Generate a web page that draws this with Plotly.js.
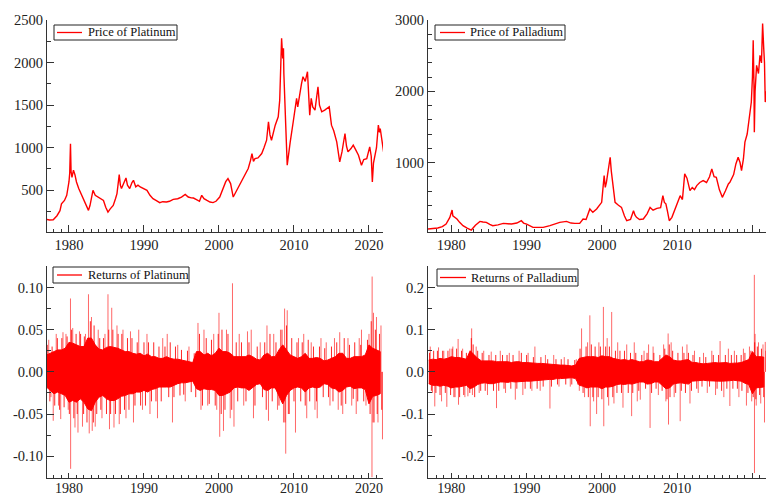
<!DOCTYPE html>
<html><head><meta charset="utf-8">
<script src="https://cdn.plot.ly/plotly-3.0.1.min.js"></script>
<style>html,body{margin:0;padding:0;background:#fff}#chart{width:766px;height:494px}</style>
</head><body><div id="chart"></div>
<script>
// ---- Price of Platinum (USD/oz) ----
const platYears = [1977.0,1977.4,1977.9,1978.4,1978.8,1979.0,1979.4,1979.7,1980.0,1980.1,1980.2,1980.28,1980.4,1980.6,1980.8,1981.0,1981.3,1981.7,1982.0,1982.3,1982.6,1982.8,1983.0,1983.2,1983.5,1983.9,1984.2,1984.6,1984.9,1985.2,1985.5,1985.9,1986.2,1986.4,1986.7,1986.85,1987.0,1987.3,1987.6,1987.8,1988.1,1988.4,1988.6,1988.9,1989.2,1989.5,1989.9,1990.4,1990.8,1991.2,1991.6,1992.1,1992.5,1993.0,1993.4,1993.9,1994.5,1995.0,1995.5,1995.9,1996.3,1996.6,1997.0,1997.4,1997.7,1998.0,1998.4,1998.8,1999.2,1999.6,2000.1,2000.6,2000.9,2001.2,2001.55,2001.9,2002.2,2002.6,2003.2,2003.5,2003.9,2004.2,2004.4,2004.6,2004.8,2005.2,2005.7,2006.0,2006.35,2006.6,2006.8,2007.0,2007.3,2007.5,2007.9,2008.1,2008.25,2008.35,2008.5,2008.6,2008.65,2008.8,2008.9,2009.1,2009.3,2009.5,2009.9,2010.1,2010.35,2010.5,2010.8,2011.0,2011.2,2011.5,2011.8,2012.0,2012.1,2012.3,2012.5,2012.8,2013.0,2013.2,2013.4,2013.7,2014.1,2014.4,2014.7,2015.0,2015.3,2015.7,2016.1,2016.4,2016.8,2017.0,2017.2,2017.6,2017.9,2018.2,2018.6,2019.0,2019.3,2019.7,2020.1,2020.3,2020.45,2020.6,2020.8,2021.0,2021.25,2021.4,2021.5,2021.7,2021.8,2021.95];
const platPrice = [157,150,153,200,260,340,380,440,600,700,1045,720,650,735,680,597,520,440,400,330,263,320,430,499,440,420,410,380,300,243,280,322,400,460,684,560,519,580,644,560,519,590,617,540,560,538,520,499,440,401,380,354,365,361,370,393,400,420,451,420,410,408,390,370,440,400,380,361,354,370,420,538,600,637,578,420,470,538,637,680,755,850,931,840,872,880,931,1000,1088,1305,1150,1088,1200,1265,1363,1560,2000,2288,2050,2170,1875,1600,1265,794,950,1069,1305,1450,1580,1480,1658,1750,1835,1780,1894,1600,1383,1580,1480,1442,1620,1717,1500,1422,1442,1460,1481,1265,1200,1069,833,950,1167,1020,951,990,1030,980,912,794,860,872,1010,900,597,820,912,1000,1265,1180,1226,1080,990,950];

// ---- Price of Palladium (USD/oz) ----
const pallYears = [1976.9,1977.5,1978.2,1978.8,1979.3,1979.8,1980.1,1980.2,1980.45,1980.75,1981.1,1981.55,1982.1,1982.65,1983.2,1983.8,1984.2,1984.65,1985.1,1985.5,1986.2,1986.9,1987.5,1988.0,1988.7,1989.3,1989.6,1990.0,1990.85,1991.5,1992.2,1993.1,1993.7,1994.4,1995.3,1995.9,1996.4,1997.05,1997.5,1997.9,1998.4,1998.8,1999.3,1999.97,2000.3,2000.45,2000.6,2000.9,2001.1,2001.25,2001.4,2001.75,2002.2,2002.6,2003.0,2003.3,2003.8,2004.2,2004.4,2004.6,2005.0,2005.5,2006.0,2006.4,2006.8,2007.3,2007.8,2008.1,2008.3,2008.5,2008.7,2008.95,2009.3,2009.7,2010.0,2010.4,2010.7,2011.0,2011.3,2011.7,2012.0,2012.3,2012.6,2013.0,2013.45,2013.9,2014.3,2014.6,2014.9,2015.2,2015.6,2016.0,2016.4,2016.8,2017.0,2017.5,2017.8,2018.1,2018.35,2018.55,2018.8,2019.0,2019.3,2019.6,2019.85,2020.0,2020.1,2020.2,2020.25,2020.35,2020.55,2020.8,2021.0,2021.2,2021.35,2021.5,2021.6,2021.7,2021.8];
const pallPrice = [66,70,80,100,136,230,333,250,230,207,160,113,80,52,120,173,165,159,130,113,125,145,140,136,150,183,150,136,89,90,89,113,130,159,173,150,145,145,207,200,348,300,348,441,817,650,722,900,1074,880,722,441,400,370,250,183,200,324,260,230,200,207,280,370,330,357,365,535,440,420,320,183,230,348,420,535,480,840,780,605,650,620,676,720,746,720,800,911,800,793,620,511,600,700,722,830,980,1074,1000,887,1050,1286,1400,1615,1850,2200,2717,2100,1426,2000,2365,2250,2506,2400,2952,2600,2400,1849,2000];

// ---- Returns: half-yearly band of the dense core (1977.0 ... 2021.5) ----
const bandStart = 1977.0, bandStep = 0.5;
const platRetHi = [.020,.022,.024,.026,.026,.028,.035,.034,.032,.030,
 .030,.040,.040,.032,.027,.026,.029,.030,.029,.028,
 .026,.024,.024,.022,.021,.022,.019,.021,.018,.018,
 .016,.016,.018,.016,.015,.015,.014,.013,.012,.011,
 .024,.024,.020,.022,.019,.022,.028,.024,.024,.022,
 .018,.018,.018,.018,.020,.018,.015,.014,.020,.022,
 .018,.018,.026,.032,.026,.020,.018,.016,.018,.022,
 .016,.016,.017,.016,.013,.014,.016,.018,.022,.022,
 .016,.016,.018,.018,.018,.020,.032,.028,.026,.024];
const platRetLo = [-.018,-.022,-.026,-.024,-.026,-.028,-.036,-.034,-.036,-.032,
 -.036,-.044,-.046,-.036,-.030,-.028,-.032,-.034,-.034,-.032,
 -.029,-.028,-.026,-.026,-.024,-.024,-.022,-.024,-.021,-.020,
 -.018,-.018,-.018,-.018,-.016,-.014,-.013,-.013,-.012,-.011,
 -.020,-.022,-.020,-.021,-.021,-.022,-.028,-.028,-.026,-.024,
 -.019,-.018,-.019,-.019,-.022,-.019,-.015,-.014,-.021,-.022,
 -.019,-.019,-.028,-.038,-.028,-.022,-.019,-.018,-.019,-.024,
 -.019,-.018,-.019,-.018,-.014,-.015,-.019,-.020,-.024,-.022,
 -.018,-.017,-.020,-.019,-.019,-.021,-.038,-.029,-.028,-.026];
const pallRetHi = [.028,.030,.029,.032,.030,.032,.036,.034,.034,.032,
 .030,.050,.040,.032,.026,.026,.026,.026,.024,.024,
 .024,.024,.022,.024,.024,.022,.022,.021,.021,.020,
 .020,.019,.018,.018,.016,.016,.016,.015,.014,.016,
 .032,.034,.036,.036,.036,.034,.038,.036,.036,.032,
 .030,.028,.029,.027,.029,.027,.024,.024,.028,.027,
 .024,.024,.032,.040,.036,.028,.026,.026,.028,.029,
 .022,.022,.020,.019,.020,.021,.022,.021,.022,.022,
 .020,.020,.021,.022,.026,.029,.048,.036,.036,.035];
const pallRetLo = [-.028,-.032,-.032,-.034,-.032,-.034,-.038,-.036,-.036,-.034,
 -.032,-.040,-.036,-.030,-.027,-.026,-.028,-.028,-.026,-.024,
 -.024,-.025,-.023,-.024,-.024,-.023,-.022,-.022,-.021,-.020,
 -.019,-.019,-.018,-.018,-.016,-.016,-.015,-.015,-.014,-.016,
 -.032,-.034,-.038,-.036,-.036,-.036,-.040,-.036,-.036,-.034,
 -.030,-.029,-.030,-.028,-.029,-.027,-.024,-.024,-.029,-.028,
 -.024,-.024,-.032,-.040,-.038,-.029,-.027,-.026,-.028,-.029,
 -.022,-.022,-.021,-.020,-.021,-.022,-.022,-.022,-.022,-.022,
 -.021,-.020,-.021,-.022,-.027,-.030,-.052,-.038,-.037,-.036];

// ---- Returns: medium daily moves forming the ragged edge of the band ----
const platMidYears = [1977.1,1977.45,1977.75,1978.1,1978.45,1978.75,1979.05,1979.35,1979.75,1980.05,1980.35,1980.65,1980.95,1981.1,1981.55,1981.95,1982.05,1982.4,1982.85,1983.25,1983.35,1983.7,1984.1,1984.25,1984.6,1985.0,1985.3,1985.55,1985.85,1986.2,1986.55,1986.85,1987.05,1987.4,1987.8,1988.0,1988.4,1988.8,1989.1,1989.55,1990.0,1990.2,1990.6,1991.0,1991.3,1991.6,1992.0,1992.3,1992.8,1993.3,1993.5,1994.0,1994.2,1994.8,1995.0,1995.3,1995.8,1996.3,1996.7,1996.9,1997.4,1997.8,1998.3,1998.7,1999.0,1999.5,1999.9,2000.3,2000.4,2000.8,2001.2,2001.7,2002.3,2002.5,2003.0,2003.6,2004.0,2004.8,2005.1,2005.8,2006.1,2006.3,2006.8,2007.1,2007.6,2008.0,2008.4,2008.8,2009.0,2009.25,2009.7,2010.0,2010.4,2010.9,2011.1,2011.5,2011.9,2012.1,2012.6,2013.0,2013.4,2013.9,2014.1,2014.6,2015.0,2015.2,2015.7,2016.3,2016.7,2016.9,2017.4,2017.9,2018.1,2018.5,2018.9,2019.3,2019.8,2020.15,2020.3,2020.55,2020.85,2021.1,2021.4,2021.7];
const platMidVals = [.032,-.035,.03,-.04,.04,-.045,.04,-.042,.042,-.05,.05,-.055,.045,-.05,.045,-.05,.042,-.06,.06,-.06,.055,-.05,.04,-.045,.04,-.05,.05,-.05,.05,-.05,.045,-.05,.045,-.045,.04,-.045,.04,-.04,.035,-.04,.035,-.04,.035,-.035,.035,-.035,.03,-.035,.03,-.03,.035,-.03,.03,-.028,.026,-.027,.025,-.024,.022,-.03,.045,-.04,.04,-.038,.038,-.04,.045,-.05,.05,-.045,.045,-.045,.035,-.035,.035,-.035,.035,-.04,.03,-.03,.035,-.045,.045,-.035,.035,-.04,.05,-.06,.055,-.05,.04,-.035,.035,-.035,.035,-.04,.038,-.035,.03,-.035,.03,-.03,.028,-.03,.03,-.035,.035,-.04,.04,-.038,.032,-.032,.035,-.035,.032,-.035,.038,-.05,.06,-.06,.05,-.05,.045,-.045];
const pallMidYears = [1977.1,1977.35,1977.65,1977.95,1978.15,1978.5,1978.85,1979.2,1979.55,1979.9,1980.1,1980.35,1980.7,1981.1,1981.35,1981.65,1982.0,1982.45,1982.65,1982.9,1983.1,1983.5,1983.9,1984.1,1984.5,1985.0,1985.6,1985.9,1986.3,1986.8,1987.0,1987.4,1987.9,1988.2,1988.7,1989.3,1989.8,1990.0,1990.5,1990.9,1991.4,1991.9,1992.2,1992.8,1993.3,1993.9,1994.1,1994.6,1995.2,1995.5,1996.0,1996.4,1996.8,1997.1,1997.5,1997.9,1998.2,1998.6,1998.8,1999.1,1999.5,1999.8,2000.0,2000.5,2000.75,2001.0,2001.45,2001.8,2002.0,2002.4,2002.6,2003.0,2003.5,2003.8,2004.1,2004.5,2004.9,2005.3,2005.8,2006.0,2006.6,2006.9,2007.2,2007.7,2008.0,2008.35,2008.65,2008.95,2009.05,2009.4,2009.8,2010.1,2010.55,2010.9,2011.1,2011.5,2011.9,2012.1,2012.6,2013.0,2013.3,2013.8,2014.3,2014.8,2015.3,2015.5,2015.9,2016.4,2016.6,2017.2,2017.4,2017.9,2018.0,2018.5,2018.6,2019.0,2019.4,2019.8,2020.1,2020.3,2020.45,2020.65,2020.95,2021.2,2021.5,2021.8];
const pallMidVals = [.045,-.045,.05,-.05,.05,-.055,.05,-.05,.05,-.055,.055,-.06,.055,-.06,.05,-.055,.045,-.05,.08,.065,-.06,.05,-.045,.045,-.045,.04,-.045,.04,-.045,.04,-.04,.04,-.04,.04,-.04,.045,-.04,.04,-.04,.035,-.04,.035,-.035,.03,-.035,.03,-.03,.03,-.03,.03,-.03,.028,-.03,.055,-.05,.06,-.06,.065,-.06,.06,-.06,.06,-.065,.06,-.06,.06,-.06,.05,-.05,.05,-.05,.05,-.05,.045,-.05,.045,-.045,.04,-.04,.045,-.05,.045,-.04,.04,-.045,.055,-.065,.065,-.06,.05,-.05,.045,-.045,.045,-.05,.045,-.045,.04,-.04,.035,-.035,.035,-.035,.04,-.04,.04,-.045,.04,-.04,.04,-.04,.04,-.04,.04,-.045,.045,-.05,.05,-.06,.07,-.065,.06,-.055,.055,-.06,.05];

// ---- Returns: largest daily moves (year, return) ----
const platSpikeYears = [1977.3,1977.6,1977.9,1978.3,1978.6,1978.9,1979.2,1979.6,1979.9,1980.2,1980.22,1980.5,1980.8,1981.2,1981.4,1981.8,1982.2,1982.6,1982.7,1983.0,1983.1,1983.5,1983.9,1984.4,1984.8,1985.2,1985.4,1985.7,1986.0,1986.4,1986.7,1987.2,1987.6,1988.2,1988.6,1989.3,1989.8,1990.4,1990.8,1991.8,1992.5,1993.1,1993.8,1994.5,1995.5,1996.0,1997.2,1997.6,1998.0,1998.5,1999.3,1999.7,2000.0,2000.1,2000.6,2001.0,2001.5,2001.8,2002.0,2002.7,2003.3,2003.8,2004.3,2004.6,2005.5,2006.4,2006.6,2007.3,2007.8,2008.2,2008.6,2008.75,2008.9,2009.1,2009.4,2010.2,2010.6,2011.3,2011.7,2012.3,2012.8,2013.1,2013.6,2014.3,2014.8,2015.4,2015.9,2016.1,2016.5,2017.2,2017.7,2018.3,2018.7,2019.0,2019.6,2020.0,2020.42,2020.4,2020.6,2020.7,2021.0,2021.2,2021.6,2021.8];
const platSpikeVals = [.038,-.03,-.058,.045,-.04,-.056,.047,.045,-.045,.087,-.115,.052,-.066,-.072,.048,-.065,.045,.092,-.073,.065,-.07,-.065,.05,-.055,.045,.092,-.068,.076,-.066,.055,-.062,.05,-.055,.048,-.06,.05,-.045,.045,-.05,-.055,.04,.045,-.06,.032,-.035,.03,.058,-.045,.05,-.04,.045,-.045,.07,-.077,-.07,.05,-.055,.105,-.065,.045,-.04,.048,.05,-.055,.035,.055,-.058,.045,-.045,.05,-.06,.075,-.097,.073,-.05,-.072,.04,.045,-.055,.035,-.045,-.055,.04,.035,-.04,.04,-.045,.047,-.05,.04,-.04,-.05,.04,.05,-.04,.045,.113,-.125,.07,-.06,.065,-.06,.055,-.08];
const pallSpikeYears = [1977.2,1977.5,1977.8,1978.3,1978.7,1979.0,1979.4,1979.8,1980.2,1980.5,1980.9,1980.95,1981.5,1981.8,1982.2,1982.7,1982.8,1983.3,1983.7,1984.3,1984.8,1985.3,1986.0,1986.5,1987.2,1987.7,1988.5,1989.0,1989.5,1990.2,1990.7,1991.1,1991.8,1992.5,1993.1,1993.6,1994.3,1995.0,1995.8,1996.6,1997.0,1997.3,1997.7,1998.1,1998.4,1998.45,1998.9,1999.3,1999.6,2000.2,2000.25,2000.7,2000.9,2001.3,2001.6,2002.1,2002.8,2003.3,2003.95,2004.3,2004.7,2005.1,2005.6,2006.2,2006.4,2006.8,2007.5,2008.2,2008.5,2008.8,2008.85,2009.2,2009.6,2010.4,2010.7,2011.3,2011.7,2012.3,2012.8,2013.5,2014.0,2014.6,2015.1,2015.7,2016.2,2016.8,2017.0,2017.6,2018.2,2018.8,2019.2,2019.6,2019.9,2020.25,2020.27,2020.35,2020.5,2020.8,2021.1,2021.4,2021.6,2021.7];
const pallSpikeVals = [.06,-.05,-.082,.058,-.07,.05,-.083,.055,.06,-.06,.078,-.078,.055,-.06,-.058,.103,-.055,.06,-.05,.05,-.055,.048,-.086,.05,-.05,.045,-.066,.05,-.055,.045,-.045,.06,-.045,.04,-.087,.04,-.035,.035,-.035,.03,-.045,.103,-.06,.07,.134,-.129,-.07,-.10,.07,.154,-.129,.08,-.08,.142,-.075,.07,-.085,.065,-.105,.07,-.07,-.066,.05,.065,-.133,.06,-.055,.065,-.07,.091,-.125,.07,-.06,-.117,.06,.065,-.075,.05,-.05,.045,-.05,.05,-.055,.073,-.06,.055,-.081,.05,-.06,.055,-.08,.06,-.07,.23,-.24,.09,-.08,.07,-.075,.065,-.12,.071];

// ---- labels ----
const legendNames = ['Price of Platinum','Price of Palladium','Returns of Platinum','Returns of Palladium'];
const xTickVals = [1980,1990,2000,2010,2020];

// ---------------- build ----------------
const RED = '#ff0000';
const SERIF = '"Liberation Serif", "Times New Roman", Times, "DejaVu Serif", serif';
function bandTrace(hi, lo, xa, ya){
  const yrs = hi.map((_, i) => bandStart + i*bandStep);
  return {type:'scatter', mode:'lines', x: yrs.concat(yrs.slice().reverse()),
    y: hi.concat(lo.slice().reverse()), fill:'toself', fillcolor:RED,
    line:{color:RED, width:1}, xaxis:xa, yaxis:ya, showlegend:false, hoverinfo:'skip'};
}
function spikeTrace(ys, vs, xa, ya, col){
  const x = [], y = [];
  ys.forEach((t, i) => { x.push(t, t, null); y.push(0, vs[i], null); });
  return {type:'scatter', mode:'lines', x, y, line:{color:col, width:1},
    xaxis:xa, yaxis:ya, showlegend:false, hoverinfo:'skip'};
}
const traces = [
  {type:'scatter', mode:'lines', x:platYears, y:platPrice, line:{color:RED, width:1.4}, xaxis:'x', yaxis:'y', showlegend:false},
  {type:'scatter', mode:'lines', x:pallYears, y:pallPrice, line:{color:RED, width:1.4}, xaxis:'x2', yaxis:'y2', showlegend:false},
  spikeTrace(platSpikeYears, platSpikeVals, 'x3', 'y3', 'rgba(255,0,0,0.6)'),
  spikeTrace(platMidYears, platMidVals, 'x3', 'y3', 'rgba(255,0,0,0.85)'),
  bandTrace(platRetHi, platRetLo, 'x3', 'y3'),
  spikeTrace(pallSpikeYears, pallSpikeVals, 'x4', 'y4', 'rgba(255,0,0,0.6)'),
  spikeTrace(pallMidYears, pallMidVals, 'x4', 'y4', 'rgba(255,0,0,0.85)'),
  bandTrace(pallRetHi, pallRetLo, 'x4', 'y4')
];

const W = 766, H = 494;
const px = v => v / W, py = v => 1 - v / H;
const tickFont = {family:SERIF, size:14.5, color:'#222'};
const AX = '#333';
function xAxis(domL, domR, r, tl, so, fs){
  return {domain:[px(domL), px(domR)], range:r, tickmode:'array', tickvals:xTickVals,
    ticks:'inside', ticklen:tl, tickwidth:1, tickcolor:AX, showline:true, linecolor:AX, linewidth:1,
    showgrid:false, zeroline:false, tickfont:Object.assign({}, tickFont, {size:fs}), automargin:false, ticklabelstandoff:so,
    minor:{ticks:'inside', ticklen:3, tickwidth:1, tickcolor:AX, tickmode:'linear', tick0:1980, dtick:1, showgrid:false}};
}
function yAxis(top, bot, r, tv, tt, mdt){
  return {domain:[py(bot), py(top)], range:r, tickmode:'array', tickvals:tv, ticktext:tt,
    ticks:'inside', ticklen:7, tickwidth:1, tickcolor:AX, showline:true, linecolor:AX, linewidth:1,
    showgrid:false, zeroline:false, tickfont:tickFont, automargin:false,
    minor:{ticks:'inside', ticklen:4, tickwidth:1, tickcolor:AX, tickmode:'linear', tick0:0, dtick:mdt, showgrid:false}};
}

const shapes = [], annotations = [];
function legendBox(x0, x1, y0, y1, lx0, lx1, tx, text){
  shapes.push({type:'rect', xref:'paper', yref:'paper', x0:px(x0), x1:px(x1), y0:py(y1), y1:py(y0),
    line:{color:'#222', width:1}, fillcolor:'#fff', layer:'above'});
  const ym = (y0 + y1) / 2;
  shapes.push({type:'line', xref:'paper', yref:'paper', x0:px(lx0), x1:px(lx1), y0:py(ym), y1:py(ym),
    line:{color:RED, width:1.3}, layer:'above'});
  annotations.push({xref:'paper', yref:'paper', x:px(tx), y:py(ym), xanchor:'left', yanchor:'middle',
    text:text, showarrow:false, font:{family:SERIF, size:12.5, color:'#111'}});
}
legendBox(54, 177, 25, 40, 57, 82, 86, legendNames[0]);
legendBox(435, 565, 25, 40, 440, 465, 468, legendNames[1]);
legendBox(53, 189, 267, 283, 57, 82, 86, legendNames[2]);
legendBox(437, 578, 269, 286, 440, 466, 469, legendNames[3]);

const layout = {
  width:W, height:H, margin:{l:0, r:0, t:0, b:0}, paper_bgcolor:'#fff', plot_bgcolor:'rgba(0,0,0,0)',
  showlegend:false, font:{family:SERIF},
  xaxis: Object.assign(xAxis(47, 383, [1977.07, 2021.87], 7, -1, 14.5), {anchor:'y'}),
  yaxis: Object.assign(yAxis(20, 232.3, [5, 2502], [500,1000,1500,2000,2500], ['500','1000','1500','2000','2500'], 250), {anchor:'x'}),
  xaxis2: Object.assign(xAxis(428, 766, [1976.9, 2021.8], 7, -1, 14.5), {anchor:'y2'}),
  yaxis2: Object.assign(yAxis(20, 232.3, [20, 3002], [1000,2000,3000], ['1000','2000','3000'], 200), {anchor:'x2'}),
  xaxis3: Object.assign(xAxis(47, 383, [1977.07, 2021.87], 5, -3, 14), {anchor:'y3'}),
  yaxis3: Object.assign(yAxis(266, 477.7, [-0.1255, 0.1255], [-0.1,-0.05,0,0.05,0.1], ['-0.10','-0.05','0.00','0.05','0.10'], 0.025), {anchor:'x3'}),
  xaxis4: Object.assign(xAxis(428, 766, [1976.9, 2021.8], 5, -3, 14), {anchor:'y4'}),
  yaxis4: Object.assign(yAxis(266, 477.7, [-0.251, 0.251], [-0.2,-0.1,0,0.1,0.2], ['-0.2','-0.1','0.0','0.1','0.2'], 0.05), {anchor:'x4'}),
  shapes, annotations
};
Plotly.newPlot('chart', traces, layout, {staticPlot:true, displayModeBar:false});
</script></body></html>
